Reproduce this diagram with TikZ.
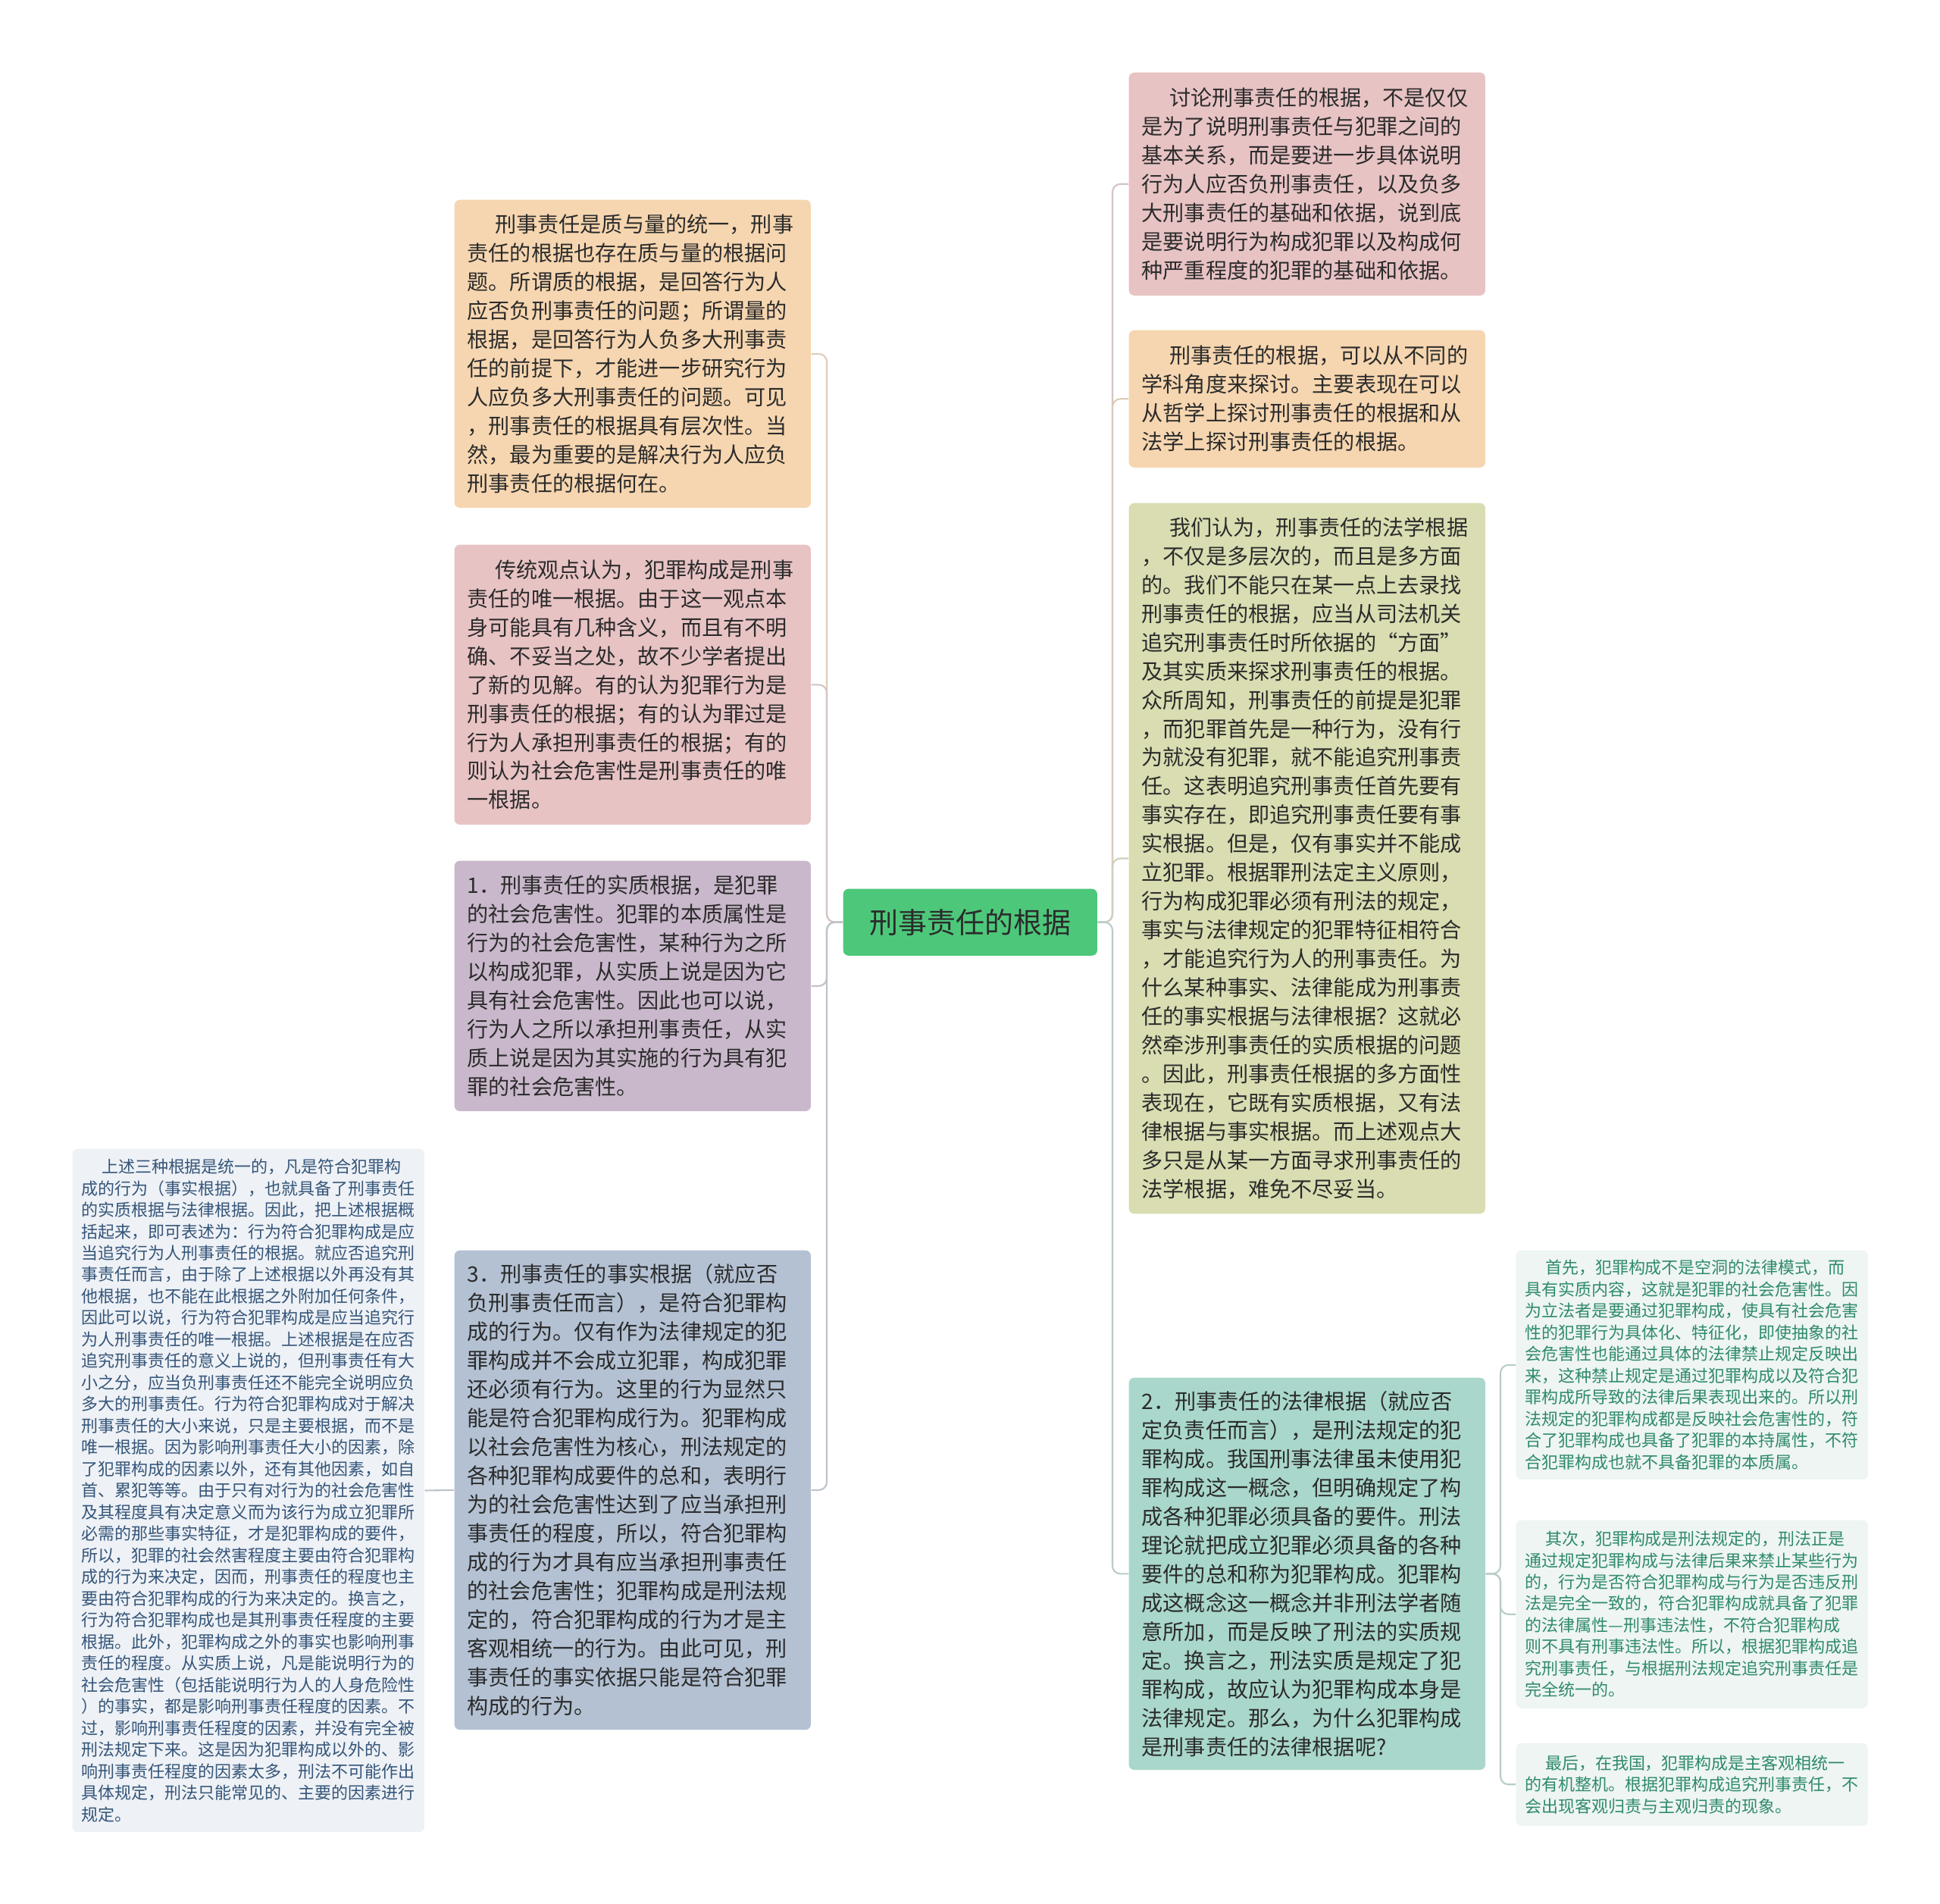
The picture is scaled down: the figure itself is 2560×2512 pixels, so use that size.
\documentclass[tikz,border=0pt]{standalone}
\usepackage{fontspec}
\setmainfont{Noto Sans CJK SC}
\definecolor{pinkFill}{HTML}{E8C3C4}
\definecolor{peachFill}{HTML}{F6D6B0}
\definecolor{oliveFill}{HTML}{D9DDB1}
\definecolor{purpleFill}{HTML}{C9B8CB}
\definecolor{blueFill}{HTML}{B3C1D3}
\definecolor{tealFill}{HTML}{A9D7CB}
\definecolor{paleTeal}{HTML}{EEF5F2}
\definecolor{paleBlue}{HTML}{EEF1F5}
\definecolor{rootFill}{HTML}{4DC87A}
\definecolor{mainText}{HTML}{2B2B2B}
\definecolor{blueText}{HTML}{34557A}
\definecolor{tealText}{HTML}{2F8A6C}

\begin{document}
\begin{tikzpicture}[x=0.01cm, y=-0.01cm]
	\tikzstyle{rootStyle}=[anchor=north west, rectangle, rounded corners=2pt, fill=rootFill, minimum width=3.35cm, minimum height=0.88cm, inner sep=0pt, font=\fontsize{10.8pt}{13pt}\selectfont, text=mainText]
	\tikzstyle{bigStyle}=[anchor=north west, rectangle, rounded corners=2pt, inner xsep=0.17cm, inner ysep=0pt, text width=4.36cm, align=left, font=\fontsize{8pt}{10.8pt}\selectfont, text=mainText]
	\tikzstyle{smallStyle}=[anchor=north west, rectangle, rounded corners=2pt, inner xsep=0.12cm, inner ysep=0pt, text width=4.40cm, align=left, font=\fontsize{6.25pt}{8.1pt}\selectfont]
	\tikzstyle{linkStyle}=[line width=0.6pt, rounded corners=3pt]
	\fill[white] (0,0) rectangle (2560,2512);
	\coordinate (spl) at (1091,0);
	\coordinate (spr) at (1468,0);
	\coordinate (spf) at (1980,0);
	\node[rootStyle] (root) at (1112,1172) {刑事责任的根据};
	\node[bigStyle, fill=pinkFill, minimum height=2.94cm] (r1) at (1489,95) {\hspace*{1.3em}讨论刑事责任的根据，不是仅仅\\
是为了说明刑事责任与犯罪之间的\\
基本关系，而是要进一步具体说明\\
行为人应否负刑事责任，以及负多\\
大刑事责任的基础和依据，说到底\\
是要说明行为构成犯罪以及构成何\\
种严重程度的犯罪的基础和依据。};
	\node[bigStyle, fill=peachFill, minimum height=1.81cm] (r2) at (1489,435) {\hspace*{1.3em}刑事责任的根据，可以从不同的\\
学科角度来探讨。主要表现在可以\\
从哲学上探讨刑事责任的根据和从\\
法学上探讨刑事责任的根据。};
	\node[bigStyle, fill=oliveFill, minimum height=9.37cm] (r3) at (1489,663) {\hspace*{1.3em}我们认为，刑事责任的法学根据\\
，不仅是多层次的，而且是多方面\\
的。我们不能只在某一点上去录找\\
刑事责任的根据，应当从司法机关\\
追究刑事责任时所依据的“方面”\\
及其实质来探求刑事责任的根据。\\
众所周知，刑事责任的前提是犯罪\\
，而犯罪首先是一种行为，没有行\\
为就没有犯罪，就不能追究刑事责\\
任。这表明追究刑事责任首先要有\\
事实存在，即追究刑事责任要有事\\
实根据。但是，仅有事实并不能成\\
立犯罪。根据罪刑法定主义原则，\\
行为构成犯罪必须有刑法的规定，\\
事实与法律规定的犯罪特征相符合\\
，才能追究行为人的刑事责任。为\\
什么某种事实、法律能成为刑事责\\
任的事实根据与法律根据？这就必\\
然牵涉刑事责任的实质根据的问题\\
。因此，刑事责任根据的多方面性\\
表现在，它既有实质根据，又有法\\
律根据与事实根据。而上述观点大\\
多只是从某一方面寻求刑事责任的\\
法学根据，难免不尽妥当。};
	\node[bigStyle, fill=tealFill, minimum height=5.17cm] (r4) at (1489,1817) {2．刑事责任的法律根据（就应否\\
定负责任而言），是刑法规定的犯\\
罪构成。我国刑事法律虽未使用犯\\
罪构成这一概念，但明确规定了构\\
成各种犯罪必须具备的要件。刑法\\
理论就把成立犯罪必须具备的各种\\
要件的总和称为犯罪构成。犯罪构\\
成这概念这一概念并非刑法学者随\\
意所加，而是反映了刑法的实质规\\
定。换言之，刑法实质是规定了犯\\
罪构成，故应认为犯罪构成本身是\\
法律规定。那么，为什么犯罪构成\\
是刑事责任的法律根据呢?};
	\node[bigStyle, fill=peachFill, minimum height=4.06cm] (l1) at (599,263) {\hspace*{1.3em}刑事责任是质与量的统一，刑事\\
责任的根据也存在质与量的根据问\\
题。所谓质的根据，是回答行为人\\
应否负刑事责任的问题；所谓量的\\
根据，是回答行为人负多大刑事责\\
任的前提下，才能进一步研究行为\\
人应负多大刑事责任的问题。可见\\
，刑事责任的根据具有层次性。当\\
然，最为重要的是解决行为人应负\\
刑事责任的根据何在。};
	\node[bigStyle, fill=pinkFill, minimum height=3.69cm] (l2) at (599,718) {\hspace*{1.3em}传统观点认为，犯罪构成是刑事\\
责任的唯一根据。由于这一观点本\\
身可能具有几种含义，而且有不明\\
确、不妥当之处，故不少学者提出\\
了新的见解。有的认为犯罪行为是\\
刑事责任的根据；有的认为罪过是\\
行为人承担刑事责任的根据；有的\\
则认为社会危害性是刑事责任的唯\\
一根据。};
	\node[bigStyle, fill=purpleFill, minimum height=3.30cm] (l3) at (599,1135) {1．刑事责任的实质根据，是犯罪\\
的社会危害性。犯罪的本质属性是\\
行为的社会危害性，某种行为之所\\
以构成犯罪，从实质上说是因为它\\
具有社会危害性。因此也可以说，\\
行为人之所以承担刑事责任，从实\\
质上说是因为其实施的行为具有犯\\
罪的社会危害性。};
	\node[bigStyle, fill=blueFill, minimum height=6.32cm] (l4) at (599,1649) {3．刑事责任的事实根据（就应否\\
负刑事责任而言），是符合犯罪构\\
成的行为。仅有作为法律规定的犯\\
罪构成并不会成立犯罪，构成犯罪\\
还必须有行为。这里的行为显然只\\
能是符合犯罪构成行为。犯罪构成\\
以社会危害性为核心，刑法规定的\\
各种犯罪构成要件的总和，表明行\\
为的社会危害性达到了应当承担刑\\
事责任的程度，所以，符合犯罪构\\
成的行为才具有应当承担刑事责任\\
的社会危害性；犯罪构成是刑法规\\
定的，符合犯罪构成的行为才是主\\
客观相统一的行为。由此可见，刑\\
事责任的事实依据只能是符合犯罪\\
构成的行为。};
	\node[smallStyle, fill=paleBlue, text=blueText, minimum height=9.01cm] (ll) at (95,1515) {\hspace*{1.2em}上述三种根据是统一的，凡是符合犯罪构\\
成的行为（事实根据），也就具备了刑事责任\\
的实质根据与法律根据。因此，把上述根据概\\
括起来，即可表述为：行为符合犯罪构成是应\\
当追究行为人刑事责任的根据。就应否追究刑\\
事责任而言，由于除了上述根据以外再没有其\\
他根据，也不能在此根据之外附加任何条件，\\
因此可以说，行为符合犯罪构成是应当追究行\\
为人刑事责任的唯一根据。上述根据是在应否\\
追究刑事责任的意义上说的，但刑事责任有大\\
小之分，应当负刑事责任还不能完全说明应负\\
多大的刑事责任。行为符合犯罪构成对于解决\\
刑事责任的大小来说，只是主要根据，而不是\\
唯一根据。因为影响刑事责任大小的因素，除\\
了犯罪构成的因素以外，还有其他因素，如自\\
首、累犯等等。由于只有对行为的社会危害性\\
及其程度具有决定意义而为该行为成立犯罪所\\
必需的那些事实特征，才是犯罪构成的要件，\\
所以，犯罪的社会然害程度主要由符合犯罪构\\
成的行为来决定，因而，刑事责任的程度也主\\
要由符合犯罪构成的行为来决定的。换言之，\\
行为符合犯罪构成也是其刑事责任程度的主要\\
根据。此外，犯罪构成之外的事实也影响刑事\\
责任的程度。从实质上说，凡是能说明行为的\\
社会危害性（包括能说明行为人的人身危险性\\
）的事实，都是影响刑事责任程度的因素。不\\
过，影响刑事责任程度的因素，并没有完全被\\
刑法规定下来。这是因为犯罪构成以外的、影\\
响刑事责任程度的因素太多，刑法不可能作出\\
具体规定，刑法只能常见的、主要的因素进行\\
规定。};
	\node[smallStyle, fill=paleTeal, text=tealText, minimum height=3.02cm] (f1) at (2000,1649) {\hspace*{1.2em}首先，犯罪构成不是空洞的法律模式，而\\
具有实质内容，这就是犯罪的社会危害性。因\\
为立法者是要通过犯罪构成，使具有社会危害\\
性的犯罪行为具体化、特征化，即使抽象的社\\
会危害性也能通过具体的法律禁止规定反映出\\
来，这种禁止规定是通过犯罪构成以及符合犯\\
罪构成所导致的法律后果表现出来的。所以刑\\
法规定的犯罪构成都是反映社会危害性的，符\\
合了犯罪构成也具备了犯罪的本持属性，不符\\
合犯罪构成也就不具备犯罪的本质属。};
	\node[smallStyle, fill=paleTeal, text=tealText, minimum height=2.48cm] (f2) at (2000,2005) {\hspace*{1.2em}其次，犯罪构成是刑法规定的，刑法正是\\
通过规定犯罪构成与法律后果来禁止某些行为\\
的，行为是否符合犯罪构成与行为是否违反刑\\
法是完全一致的，符合犯罪构成就具备了犯罪\\
的法律属性—刑事违法性，不符合犯罪构成\\
则不具有刑事违法性。所以，根据犯罪构成追\\
究刑事责任，与根据刑法规定追究刑事责任是\\
完全统一的。};
	\node[smallStyle, fill=paleTeal, text=tealText, minimum height=1.09cm] (f3) at (2000,2299) {\hspace*{1.2em}最后，在我国，犯罪构成是主客观相统一\\
的有机整机。根据犯罪构成追究刑事责任，不\\
会出现客观归责与主观归责的现象。};
	\draw[linkStyle, draw=peachFill!80!black!60] (root.west) -- (root.west -| spl) |- (l1.east);
	\draw[linkStyle, draw=pinkFill!80!black!60] (root.west) -- (root.west -| spl) |- (l2.east);
	\draw[linkStyle, draw=purpleFill!80!black!60] (root.west) -- (root.west -| spl) |- (l3.east);
	\draw[linkStyle, draw=blueFill!80!black!60] (root.west) -- (root.west -| spl) |- (l4.east);
	\draw[linkStyle, draw=blueFill!80!black!60] (l4.west) -- (ll.east);
	\draw[linkStyle, draw=pinkFill!80!black!60] (root.east) -- (root.east -| spr) |- (r1.west);
	\draw[linkStyle, draw=peachFill!80!black!60] (root.east) -- (root.east -| spr) |- (r2.west);
	\draw[linkStyle, draw=oliveFill!80!black!60] (root.east) -- (root.east -| spr) |- (r3.west);
	\draw[linkStyle, draw=tealFill!80!black!60] (root.east) -- (root.east -| spr) |- (r4.west);
	\draw[linkStyle, draw=tealFill!80!black!60] (r4.east) -- (r4.east -| spf) |- (f1.west);
	\draw[linkStyle, draw=tealFill!80!black!60] (r4.east) -- (r4.east -| spf) |- (f2.west);
	\draw[linkStyle, draw=tealFill!80!black!60] (r4.east) -- (r4.east -| spf) |- (f3.west);
\end{tikzpicture}
\end{document}
